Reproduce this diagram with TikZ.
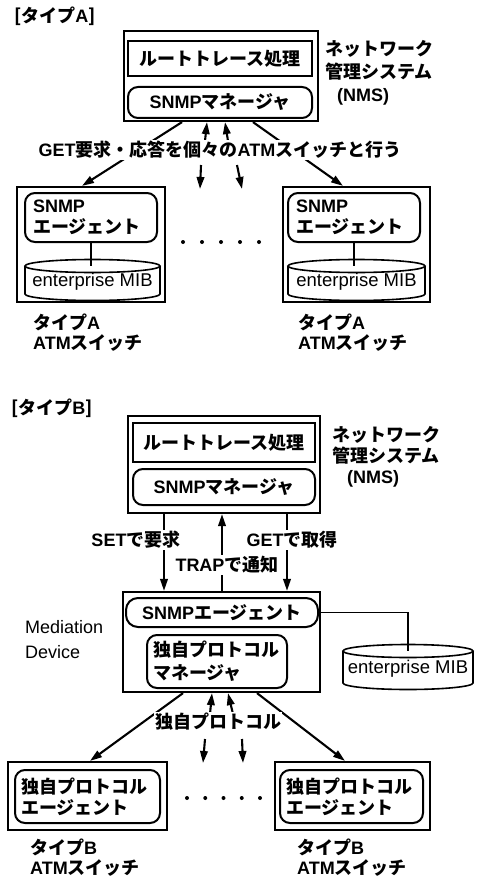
\documentclass[tikz,border=0pt]{standalone}
\usepackage{fontspec}
\newfontfamily\jp{Noto Sans CJK JP}
\newfontfamily\lat{Liberation Sans}
\newcommand\latb[1]{{\lat\bfseries #1}}
\usetikzlibrary{arrows.meta,calc}
\newcommand\mycyl[4]{%
  \draw[cylline] (#1,#2) ellipse [x radius=#3pt, y radius=6.5pt];
  \draw[cylline] (#1-#3,#2) -- (#1-#3,#2+#4) arc[start angle=180,end angle=360,x radius=#3pt,y radius=6.5pt] -- (#1+#3,#2);}
\begin{document}
\begin{tikzpicture}[x=1pt,y=-1pt,
  jpf/.style={font=\jp\bfseries\fontsize{18}{22}\selectfont},
  latf/.style={font=\lat\fontsize{18.5}{24}\selectfont},
  outerbox/.style={draw,line width=2.2pt,inner sep=0pt},
  innerbox/.style={draw,line width=2.4pt,inner sep=0pt,jpf},
  rbox/.style={draw,line width=2pt,rounded corners=10pt,inner sep=0pt,jpf},
  cylline/.style={line width=1.6pt},
  thin/.style={line width=1.5pt},
  arr/.style={line width=2.1pt,-{Triangle[length=12pt,width=7.5pt]}},
  lbl/.style={jpf,fill=white,inner sep=1pt},
  dot/.style={circle,fill=black,inner sep=0pt,minimum size=4pt}
]
\useasboundingbox (0,0) rectangle (480,880);

% ================= Type A =================
\node[jpf,anchor=west,inner sep=0pt] (titleA) at (14,16) {[タイプ\latb{A}]};

\node[outerbox,minimum width=194,minimum height=90] (nmsA) at (221,76) {};
\node[innerbox,minimum width=184,minimum height=35] (rtA) at (220,58.5) {ルートトレース処理};
\node[rbox,minimum width=184,minimum height=31] (mgrA) at (220,102.5) {\latb{SNMP}マネージャ};
\node[jpf,anchor=west,align=left,inner sep=0pt,font=\jp\bfseries\fontsize{18}{23}\selectfont] (nmslblA) at (325,73) {ネットワーク\\管理システム\\\hspace*{12pt}\latb{(NMS)}};

% switches
\node[outerbox,minimum width=148,minimum height=115] (swA1) at (91,244.5) {};
\node[rbox,minimum width=132,minimum height=49,text width=116,align=left,font=\jp\bfseries\fontsize{18}{21}\selectfont] (agA1) at (91,217.5) {\latb{SNMP}\\エージェント};
\mycyl{92.5}{266}{67.5}{28}
\node[latf,inner sep=0pt] (mibA1) at (92.5,282) {enterprise MIB};
\coordinate (mibA1top) at (91,266);
\draw[thin] (agA1.south) -- (mibA1top);

\node[outerbox,minimum width=147,minimum height=115] (swA2) at (356.5,244.5) {};
\node[rbox,minimum width=132,minimum height=49,text width=116,align=left,font=\jp\bfseries\fontsize{18}{21}\selectfont] (agA2) at (354,217.5) {\latb{SNMP}\\エージェント};
\mycyl{356.5}{266}{68.5}{28}
\node[latf,inner sep=0pt] (mibA2) at (356.5,282) {enterprise MIB};
\coordinate (mibA2top) at (354,266);
\draw[thin] (agA2.south) -- (mibA2top);

% dots
\foreach \i in {0,...,4} \node[dot] (dA\i) at (183+19*\i,242) {};

% arrows
\draw[arr] ($(nmsA.south)+(-39,0)$) -- ($(swA1.north)+(-9,0)$);
\draw[arr] ($(nmsA.south)+(32,0)$) -- ($(swA2.north)+(-13.5,0)$);
\coordinate (uA1) at (205,141);
\coordinate (uA2) at (228,141);
\draw[arr] (uA1) -- ($(nmsA.south)+(-14,0)$);
\draw[arr] (uA2) -- ($(nmsA.south)+(4,0)$);
\coordinate (dA1s) at (201,165); \coordinate (dA1e) at (200,189);
\coordinate (dA2s) at (237,165); \coordinate (dA2e) at (242,189);
\draw[arr] (dA1s) -- (dA1e);
\draw[arr] (dA2s) -- (dA2e);
\node[lbl] (getA) at (220,150) {\latb{GET}要求・応答を個々の\latb{ATM}スイッチと行う};

\node[jpf,anchor=west,align=left,inner sep=0pt,font=\jp\bfseries\fontsize{18}{20}\selectfont] (lblA1) at (33,333) {タイプ\latb{A}\\\latb{ATM}スイッチ};
\node[jpf,anchor=west,align=left,inner sep=0pt,font=\jp\bfseries\fontsize{18}{20}\selectfont] (lblA2) at (298,333) {タイプ\latb{A}\\\latb{ATM}スイッチ};

% ================= Type B =================
\node[jpf,anchor=west,inner sep=0pt] (titleB) at (11,408) {[タイプ\latb{B}]};

\node[outerbox,minimum width=192,minimum height=97] (nmsB) at (224,464.5) {};
\node[innerbox,minimum width=182,minimum height=39] (rtB) at (224,442.5) {ルートトレース処理};
\node[rbox,minimum width=182,minimum height=36] (mgrB) at (224,487) {\latb{SNMP}マネージャ};
\node[jpf,anchor=west,align=left,inner sep=0pt,font=\jp\bfseries\fontsize{18}{21}\selectfont] (nmslblB) at (332,457) {ネットワーク\\管理システム\\\hspace*{15pt}\latb{(NMS)}};

\node[outerbox,minimum width=197,minimum height=100] (medB) at (221.5,642) {};
\node[rbox,rounded corners=12pt,minimum width=192,minimum height=29] (agB) at (222,612.5) {\latb{SNMP}エージェント};
\node[rbox,minimum width=140,minimum height=53,text width=128,align=left,font=\jp\bfseries\fontsize{18}{23}\selectfont] (pmB) at (217,661.5) {独自プロトコル\\マネージャ};
\node[latf,anchor=west,align=left,inner sep=0pt,font=\lat\fontsize{18}{25}\selectfont] (medlbl) at (25,640) {Mediation\\Device};

\mycyl{408}{651}{65}{32}
\node[latf,inner sep=0pt] (mibB) at (408,669) {enterprise MIB};
\coordinate (mibBtop) at (408,651);
\draw[thin] (agB.east) -| (mibBtop);

\coordinate (xs) at (164,0);
\coordinate (xt) at (222,0);
\coordinate (xg) at (287,0);
\draw[arr] (nmsB.south -| xs) -- (medB.north -| xs);
\draw[arr] (medB.north -| xt) -- (nmsB.south -| xt);
\draw[arr] (nmsB.south -| xg) -- (medB.north -| xg);
\node[lbl] (setB) at (136,540) {\latb{SET}で要求};
\node[lbl] (getB) at (292,540) {\latb{GET}で取得};
\node[lbl] (trapB) at (227,565) {\latb{TRAP}で通知};

% switches B
\node[outerbox,minimum width=159,minimum height=68] (swB1) at (87.5,796) {};
\node[rbox,minimum width=145,minimum height=53,text width=133,align=left,font=\jp\bfseries\fontsize{18}{21}\selectfont] (pagB1) at (87.5,796.5) {独自プロトコル\\エージェント};
\node[outerbox,minimum width=155,minimum height=68] (swB2) at (352.5,796) {};
\node[rbox,minimum width=143,minimum height=53,text width=131,align=left,font=\jp\bfseries\fontsize{18}{21}\selectfont] (pagB2) at (351.5,796.5) {独自プロトコル\\エージェント};

\foreach \i in {0,...,4} \node[dot] (dB\i) at (187+18.25*\i,798) {};

\draw[arr] ($(medB.south)+(-38.5,0)$) -- ($(swB1.north)+(2.5,0)$);
\draw[arr] ($(medB.south)+(35.5,0)$) -- ($(swB2.north)+(-7.5,0)$);
\coordinate (uB1) at (210,714);
\coordinate (uB2) at (233,714);
\draw[arr] (uB1) -- ($(medB.south)+(-9.5,0)$);
\draw[arr] (uB2) -- ($(medB.south)+(6.5,0)$);
\coordinate (dB1s) at (205,739); \coordinate (dB1e) at (203,763);
\coordinate (dB2s) at (242,739); \coordinate (dB2e) at (243,763);
\draw[arr] (dB1s) -- (dB1e);
\draw[arr] (dB2s) -- (dB2e);
\node[lbl] (protoB) at (218,722) {独自プロトコル};

\node[jpf,anchor=west,align=left,inner sep=0pt,font=\jp\bfseries\fontsize{18}{20}\selectfont] (lblB1) at (30,858) {タイプ\latb{B}\\\latb{ATM}スイッチ};
\node[jpf,anchor=west,align=left,inner sep=0pt,font=\jp\bfseries\fontsize{18}{20}\selectfont] (lblB2) at (297,858) {タイプ\latb{B}\\\latb{ATM}スイッチ};
\end{tikzpicture}
\end{document}
